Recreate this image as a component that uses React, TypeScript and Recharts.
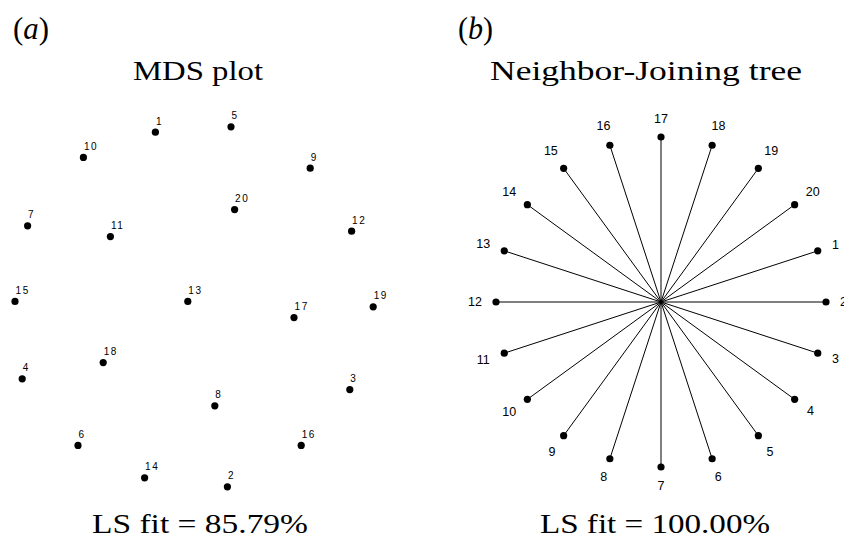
import React from 'react';
import { ScatterChart, Scatter, XAxis, YAxis, ReferenceLine } from 'recharts';

// (a) MDS coordinates
const mdsLabels = ['1', '5', '10', '9', '20', '7', '11', '12', '15', '13', '17', '19', '18', '4', '3', '8', '6', '16', '14', '2'];
const mdsX = [-0.22, 0.2, -0.62, 0.64, 0.22, -0.93, -0.47, 0.87, -1.0, -0.04, 0.55, 0.99, -0.51, -0.96, 0.86, 0.11, -0.65, 0.59, -0.28, 0.18];
const mdsY = [0.96, 0.99, 0.82, 0.76, 0.53, 0.44, 0.38, 0.41, 0.02, 0.02, -0.07, -0.01, -0.32, -0.41, -0.47, -0.56, -0.78, -0.78, -0.96, -1.01];

// (b) star tree leaf positions (centre at 0,0)
const treeLabels = ['2', '1', '20', '19', '18', '17', '16', '15', '14', '13', '12', '11', '10', '9', '8', '7', '6', '5', '4', '3'];
const treeX = [1.0, 0.95, 0.81, 0.59, 0.31, 0.0, -0.31, -0.59, -0.81, -0.95, -1.0, -0.95, -0.81, -0.59, -0.31, 0.0, 0.31, 0.59, 0.81, 0.95];
const treeY = [0.0, 0.31, 0.59, 0.81, 0.95, 1.0, 0.95, 0.81, 0.59, 0.31, 0.0, -0.31, -0.59, -0.81, -0.95, -1.0, -0.95, -0.81, -0.59, -0.31];

const mdsData = mdsLabels.map((name, i) => ({ name, x: mdsX[i], y: mdsY[i] }));
const treeData = treeLabels.map((name, i) => ({ name, x: treeX[i], y: treeY[i] }));

const SANS = '"Liberation Sans", Arial, Helvetica, sans-serif';
const serif = { fontFamily: '"Liberation Serif", "Times New Roman", serif' };

const MdsDot = (props: any) => {
  const { cx, cy, payload } = props;
  return (
    <g>
      <circle cx={cx} cy={cy} r={3.6} fill="#000" />
      <text x={cx + 0.5} y={cy - 7.5} fontSize={10} fontFamily={SANS} letterSpacing={1.6} fill="#000">
        {payload.name}
      </text>
    </g>
  );
};

const LeafDot = (props: any) => {
  const { cx, cy, payload } = props;
  // label sits just outside the leaf, pushed out a bit more for wide labels
  const len = Math.sqrt(payload.x * payload.x + payload.y * payload.y) || 1;
  const ux = payload.x / len;
  const uy = -payload.y / len;
  const w = payload.name.length * 7;
  const d = 14 + (w / 2) * Math.abs(ux) + 4.5 * Math.abs(uy);
  return (
    <g>
      <circle cx={cx} cy={cy} r={3.6} fill="#000" />
      <text
        x={cx + ux * d}
        y={cy + uy * d}
        fontSize={12.5}
        fontFamily={SANS}
        textAnchor="middle"
        dominantBaseline="central"
        fill="#000"
      >
        {payload.name}
      </text>
    </g>
  );
};

export default function App() {
  return (
    <div
      style={{
        position: 'absolute',
        top: 0,
        left: 0,
        width: 844,
        height: 540,
        overflow: 'hidden',
        background: '#fff',
      }}
    >
      <div style={{ position: 'absolute', left: -3, top: 107 }}>
        <ScatterChart width={396} height={396} margin={{ top: 0, right: 0, bottom: 0, left: 0 }}>
          <XAxis type="number" dataKey="x" domain={[-1.1, 1.1]} hide />
          <YAxis type="number" dataKey="y" domain={[-1.1, 1.1]} hide />
          <Scatter data={mdsData} shape={<MdsDot />} isAnimationActive={false} />
        </ScatterChart>
      </div>

      <div style={{ position: 'absolute', left: 463, top: 104 }}>
        <ScatterChart width={396} height={396} margin={{ top: 0, right: 0, bottom: 0, left: 0 }}>
          <XAxis type="number" dataKey="x" domain={[-1.2, 1.2]} hide />
          <YAxis type="number" dataKey="y" domain={[-1.2, 1.2]} hide />
          {treeData.map((d) => (
            <ReferenceLine
              key={`br-${d.name}`}
              segment={[{ x: 0, y: 0 }, { x: d.x, y: d.y }]}
              stroke="#000"
              strokeWidth={1}
            />
          ))}
          <Scatter data={treeData} shape={<LeafDot />} isAnimationActive={false} />
        </ScatterChart>
      </div>

      <svg
        width={844}
        height={540}
        style={{ position: 'absolute', left: 0, top: 0, pointerEvents: 'none' }}
        fill="#000"
      >
        <text x={13} y={39} fontSize={32} style={serif} textLength={36} lengthAdjust="spacingAndGlyphs">
          (<tspan fontStyle="italic">a</tspan>)
        </text>
        <text x={458} y={39} fontSize={32} style={serif} textLength={35} lengthAdjust="spacingAndGlyphs">
          (<tspan fontStyle="italic">b</tspan>)
        </text>
        <text x={133} y={80} fontSize={28} style={serif} textLength={130} lengthAdjust="spacingAndGlyphs">
          MDS plot
        </text>
        <text x={490} y={80} fontSize={28} style={serif} textLength={312} lengthAdjust="spacingAndGlyphs">
          Neighbor-Joining tree
        </text>
        <text x={92} y={533} fontSize={28} style={serif} textLength={216} lengthAdjust="spacingAndGlyphs">
          LS fit = 85.79%
        </text>
        <text x={540} y={533} fontSize={28} style={serif} textLength={230} lengthAdjust="spacingAndGlyphs">
          LS fit = 100.00%
        </text>
      </svg>
    </div>
  );
}
